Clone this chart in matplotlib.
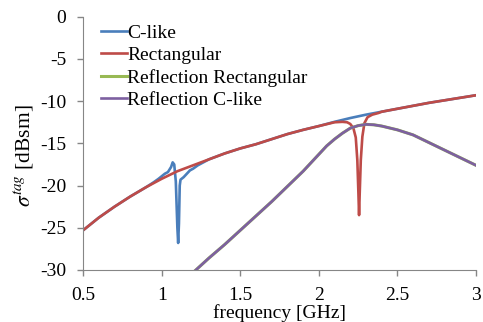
import matplotlib
matplotlib.use('Agg')
import matplotlib.pyplot as plt

plt.rcParams['font.family'] = ['Liberation Serif', 'DejaVu Serif']
plt.rcParams['mathtext.fontset'] = 'stix'

# C-like: resonance region around 1.1 GHz
f_clike = [0.5, 0.6, 0.7, 0.8, 0.9, 0.95, 0.98, 1.0, 1.02, 1.04, 1.05, 1.06, 1.07, 1.08, 1.09,
           1.1, 1.105, 1.11, 1.115, 1.12, 1.14, 1.16, 1.18, 1.2, 1.23, 1.26, 1.3, 1.4, 1.5,
           1.6, 1.7, 1.8, 1.9, 2.0, 2.1, 2.2, 2.3, 2.4, 2.5, 2.6, 2.7, 2.8, 2.9, 3.0]
s_clike = [-25.3, -23.8, -22.5, -21.3, -20.2, -19.6, -19.2, -18.9, -18.6, -18.4, -18.1, -17.8, -17.25, -17.5, -19.5,
           -25.0, -26.8, -24.5, -20.0, -19.3, -19.0, -18.6, -18.2, -18.0, -17.6, -17.3, -16.9, -16.2, -15.6,
           -15.1, -14.5, -13.9, -13.4, -12.95, -12.45, -12.0, -11.6, -11.25, -10.9, -10.55, -10.2, -9.9, -9.6, -9.3]

# Rectangular: resonance around 2.256 GHz
f_rect = [0.5, 0.6, 0.7, 0.8, 0.9, 1.0, 1.1, 1.2, 1.3, 1.4, 1.5, 1.6, 1.7, 1.8, 1.9, 2.0,
          2.1, 2.15, 2.18, 2.2, 2.22, 2.235, 2.245, 2.252, 2.256, 2.26, 2.267, 2.277, 2.29,
          2.31, 2.34, 2.38, 2.4, 2.5, 2.6, 2.7, 2.8, 2.9, 3.0]
s_rect = [-25.3, -23.8, -22.5, -21.3, -20.2, -19.2, -18.3, -17.6, -16.9, -16.2, -15.6, -15.1, -14.5, -13.9, -13.4, -12.95,
          -12.5, -12.45, -12.5, -12.7, -13.2, -14.3, -17.0, -21.0, -23.5, -21.0, -17.0, -14.2, -12.6,
          -11.9, -11.6, -11.4, -11.25, -10.9, -10.55, -10.2, -9.9, -9.6, -9.3]

# reflection curves (both nearly identical)
f_refl = [1.2, 1.3, 1.4, 1.5, 1.6, 1.7, 1.8, 1.9, 2.0, 2.05, 2.1, 2.15, 2.2, 2.25, 2.3,
          2.35, 2.4, 2.5, 2.6, 2.7, 2.8, 2.9, 3.0]
s_refl_rect = [-30.3, -28.6, -27.0, -25.3, -23.6, -21.9, -20.1, -18.3, -16.3, -15.3, -14.5, -13.8, -13.2, -12.9, -12.75,
               -12.8, -12.95, -13.4, -14.0, -14.9, -15.8, -16.7, -17.6]
s_refl_clike = [-30.3, -28.6, -27.0, -25.3, -23.6, -21.9, -20.1, -18.3, -16.3, -15.3, -14.5, -13.8, -13.2, -12.9, -12.75,
                -12.8, -12.95, -13.4, -14.0, -14.9, -15.8, -16.7, -17.6]

x_ticks = [0.5, 1, 1.5, 2, 2.5, 3]
x_labels = ['0.5', '1', '1.5', '2', '2.5', '3']
y_ticks = [0, -5, -10, -15, -20, -25, -30]
y_labels = ['0', '-5', '-10', '-15', '-20', '-25', '-30']

fig = plt.figure(figsize=(4.83, 3.22), dpi=100)
ax = fig.add_axes([0.172, 0.1615, 0.8135, 0.7865])

ax.plot(f_clike, s_clike, color='#4A7EBB', lw=1.9, label='C-like')
ax.plot(f_rect, s_rect, color='#BE4B48', lw=1.9, label='Rectangular')
ax.plot(f_refl, s_refl_rect, color='#98B954', lw=2.2, label='Reflection Rectangular')
ax.plot(f_refl, s_refl_clike, color='#7D60A0', lw=1.9, label='Reflection C-like')

ax.set_xlim(0.5, 3)
ax.set_ylim(-30, 0)
ax.set_xticks(x_ticks)
ax.set_xticklabels(x_labels)
ax.set_yticks(y_ticks)
ax.set_yticklabels(y_labels)
ax.tick_params(labelsize=14, colors='#868686', labelcolor='black', length=4, width=1)
ax.tick_params(axis='y', pad=8)
ax.tick_params(axis='x', pad=8.5)
for s in ['top', 'right']:
    ax.spines[s].set_visible(False)
for s in ['left', 'bottom']:
    ax.spines[s].set_color('#868686')

ax.set_xlabel('frequency [GHz]', fontsize=14, labelpad=0)
ax.set_ylabel(r'$\sigma^{tag}$ [dBsm]', fontsize=15.5)
ax.yaxis.set_label_coords(-0.12, 0.45)

ax.legend(loc='upper left', bbox_to_anchor=(101 / 483, 1 - 24 / 322), bbox_transform=fig.transFigure,
          frameon=False, fontsize=14, handlelength=1.35, handletextpad=0.0, labelspacing=0.25,
          borderaxespad=0, borderpad=0)

fig.savefig('out.png', dpi=100)
